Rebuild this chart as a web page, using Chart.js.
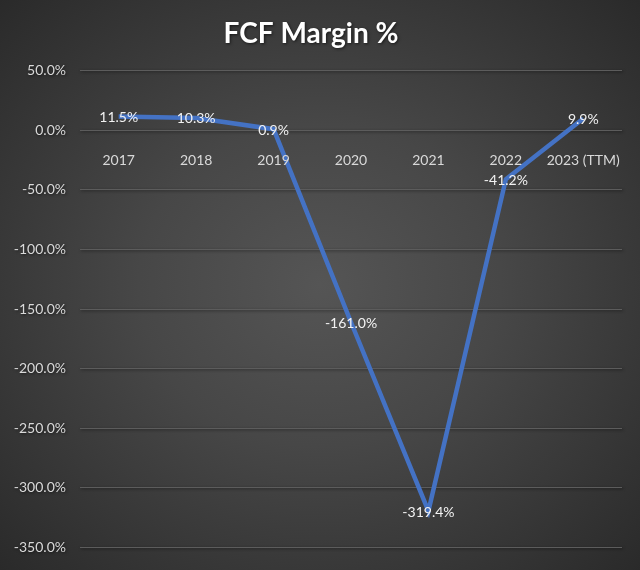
<!DOCTYPE html>
<html>
<head>
<meta charset="utf-8">
<script src="https://cdn.jsdelivr.net/npm/chart.js@4.4.0/dist/chart.umd.min.js"></script>
<style>
  html, body { margin: 0; padding: 0; }
  body { width: 640px; height: 570px; overflow: hidden; }
  #wrap {
    width: 640px; height: 570px;
    background: radial-gradient(ellipse at 50% 50%, #555555 0%, #474747 40%, #2a2a2a 100%);
  }
</style>
</head>
<body>
<div id="wrap"><canvas id="fcfChart" width="640" height="570"></canvas></div>
<script>
// Data
const years = ['2017', '2018', '2019', '2020', '2021', '2022', '2023 (TTM)'];
const fcfMargin = [11.5, 10.3, 0.9, -161.0, -319.4, -41.2, 9.9];
const yTicks = [50, 0, -50, -100, -150, -200, -250, -300, -350];

const fontFamily = 'Lato, "Open Sans", sans-serif';

// Category labels go on top of the line, then the value labels centred on each point
const valueLabels = {
  id: 'valueLabels',
  afterDatasetsDraw(chart) {
    const ctx = chart.ctx;
    const xScale = chart.scales.x;
    xScale.options.ticks.color = '#d9d9d9';
    xScale._labelItems = null;
    xScale.drawLabels(chart.chartArea);

    const meta = chart.getDatasetMeta(0);
    ctx.save();
    ctx.font = '14px ' + fontFamily;
    ctx.fillStyle = '#f2f2f2';
    ctx.textAlign = 'center';
    ctx.textBaseline = 'middle';
    meta.data.forEach((pt, i) => {
      ctx.fillText(fcfMargin[i].toFixed(1) + '%', pt.x, pt.y + 1);
    });
    ctx.restore();
  }
};

// Soft shadow behind the title text, like the original
const titleShadow = {
  id: 'titleShadow',
  beforeDraw(chart) {
    chart.ctx.save();
    chart.ctx.shadowColor = 'rgba(0, 0, 0, 0.6)';
    chart.ctx.shadowBlur = 3;
    chart.ctx.shadowOffsetX = 1;
    chart.ctx.shadowOffsetY = 1;
  },
  beforeDatasetsDraw(chart) {
    chart.ctx.restore();
  }
};

const ctx = document.getElementById('fcfChart').getContext('2d');
new Chart(ctx, {
  type: 'line',
  data: {
    labels: years,
    datasets: [{
      data: fcfMargin,
      borderColor: '#4472c4',
      borderWidth: 4.5,
      pointRadius: 0,
      tension: 0,
      fill: false
    }]
  },
  options: {
    responsive: false,
    animation: false,
    layout: { padding: { top: 2, right: 18, bottom: 20, left: 0 } },
    plugins: {
      legend: { display: false },
      tooltip: { enabled: false },
      title: {
        display: true,
        text: 'FCF Margin %',
        color: '#ffffff',
        font: { family: fontFamily, size: 28, weight: 'bold' },
        padding: { top: 15, bottom: 20 }
      }
    },
    scales: {
      x: {
        position: { y: 0 },
        offset: true,
        grid: { display: false },
        border: { display: false },
        ticks: {
          // drawn later, over the line, by the valueLabels plugin
          color: 'rgba(0,0,0,0)',
          font: { family: fontFamily, size: 14 },
          padding: 14,
          maxRotation: 0
        }
      },
      y: {
        min: -350,
        max: 50,
        afterBuildTicks(scale) {
          scale.ticks = yTicks.map(v => ({ value: v }));
        },
        afterFit(scale) {
          scale.width = 80;
        },
        grid: { color: '#5c5c5c', lineWidth: 1, drawTicks: false },
        border: { display: false },
        ticks: {
          color: '#d9d9d9',
          font: { family: fontFamily, size: 14 },
          padding: 14,
          callback: v => v.toFixed(1) + '%'
        }
      }
    }
  },
  plugins: [titleShadow, valueLabels]
});
</script>
</body>
</html>
